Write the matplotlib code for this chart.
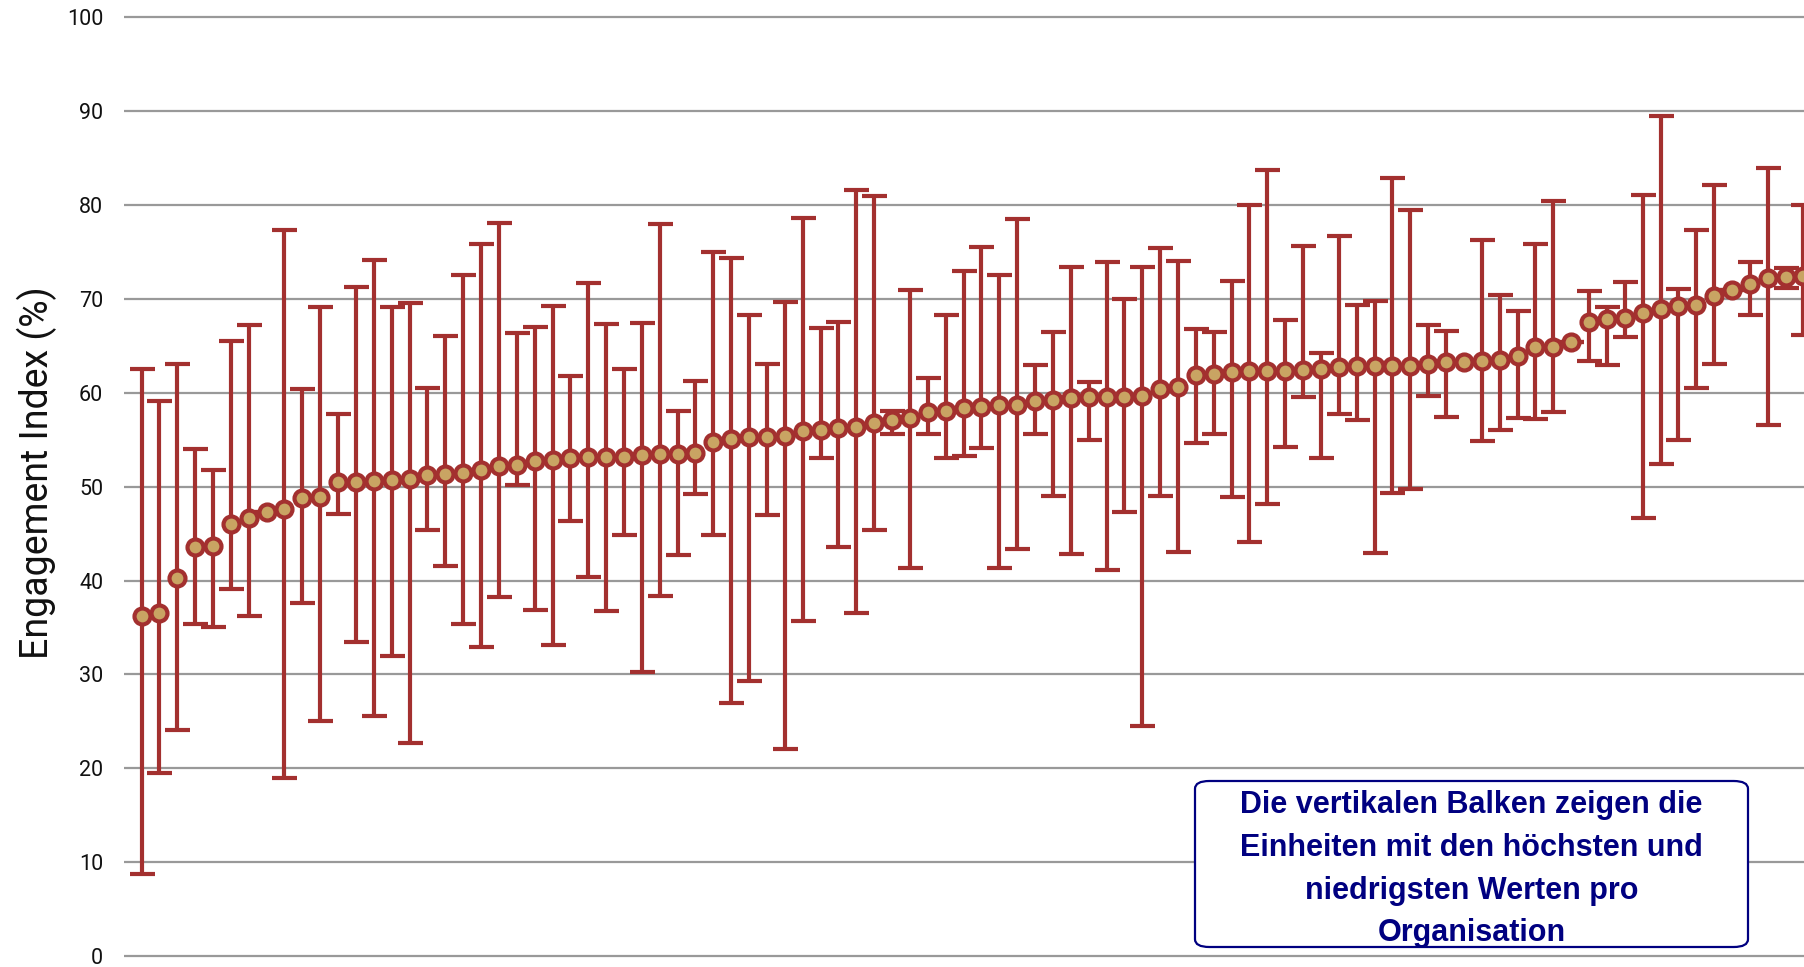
import numpy as np
import matplotlib.pyplot as plt
from matplotlib.patches import FancyBboxPatch

# engagement index per organisation (sorted), with highest / lowest unit
mean = [36.2, 36.5, 40.3, 43.6, 43.7, 46.0, 46.7, 47.3, 47.6, 48.8,
        48.9, 50.5, 50.5, 50.6, 50.7, 50.8, 51.2, 51.3, 51.4, 51.8,
        52.2, 52.3, 52.7, 52.8, 53.0, 53.2, 53.2, 53.2, 53.4, 53.5,
        53.5, 53.6, 54.8, 55.1, 55.3, 55.3, 55.4, 55.9, 56.0, 56.2,
        56.4, 56.8, 57.1, 57.3, 58.0, 58.1, 58.4, 58.5, 58.7, 58.7,
        59.1, 59.2, 59.4, 59.5, 59.6, 59.6, 59.7, 60.4, 60.6, 61.9,
        62.0, 62.2, 62.3, 62.3, 62.3, 62.4, 62.5, 62.7, 62.8, 62.8,
        62.8, 62.9, 63.1, 63.3, 63.3, 63.4, 63.5, 63.9, 64.9, 64.9,
        65.4, 67.5, 67.9, 68.0, 68.5, 68.9, 69.2, 69.3, 70.3, 70.9,
        71.6, 72.2, 72.3, 72.4]
high = [62.5, 59.1, 63.1, 54.0, 51.8, 65.5, 67.2, 47.3, 77.3, 60.4,
        69.1, 57.7, 71.3, 74.1, 69.1, 69.6, 60.5, 66.0, 72.5, 75.9,
        78.1, 66.4, 67.0, 69.2, 61.8, 71.7, 67.3, 62.5, 67.4, 78.0,
        58.1, 61.3, 75.0, 74.4, 68.3, 63.1, 69.7, 78.6, 66.9, 67.5,
        81.6, 81.0, 58.1, 70.9, 61.6, 68.3, 73.0, 75.5, 72.5, 78.5,
        63.0, 66.5, 73.4, 61.1, 73.9, 70.0, 73.4, 75.4, 74.0, 66.8,
        66.5, 71.9, 80.0, 83.7, 67.8, 75.6, 64.2, 76.7, 69.4, 69.8,
        82.9, 79.5, 67.2, 66.6, 63.3, 76.3, 70.4, 68.7, 75.9, 80.4,
        65.4, 70.8, 69.1, 71.8, 81.1, 89.5, 71.1, 77.3, 82.1, 70.9,
        73.9, 83.9, 73.3, 80.0]
low = [8.7, 19.5, 24.1, 35.4, 35.0, 39.1, 36.2, 47.3, 19.0, 37.6,
       25.0, 47.1, 33.4, 25.6, 32.0, 22.7, 45.4, 41.5, 35.4, 32.9,
       38.2, 50.2, 36.9, 33.1, 46.3, 40.4, 36.8, 44.9, 30.3, 38.3,
       42.7, 49.2, 44.9, 27.0, 29.3, 47.0, 22.0, 35.7, 53.0, 43.6,
       36.5, 45.4, 55.6, 41.3, 55.6, 53.0, 53.3, 54.1, 41.3, 43.4,
       55.6, 49.0, 42.8, 55.0, 41.1, 47.3, 24.5, 49.0, 43.0, 54.7,
       55.6, 48.9, 44.1, 48.1, 54.2, 59.6, 53.1, 57.7, 57.1, 42.9,
       49.3, 49.7, 59.7, 57.4, 63.3, 54.9, 56.0, 57.3, 57.2, 57.9,
       65.4, 63.4, 63.0, 65.9, 46.7, 52.4, 55.0, 60.5, 63.1, 70.9,
       68.3, 56.6, 71.2, 66.2]
yticks = [0, 10, 20, 30, 40, 50, 60, 70, 80, 90, 100]

mean = np.array(mean)
x = np.arange(1, len(mean) + 1)
yerr = [mean - np.array(low), np.array(high) - mean]

fig = plt.figure(figsize=(18.04, 9.67), dpi=100)
ax = fig.add_axes([124 / 1804, 8 / 967, 1680 / 1804, 945 / 967])

ax.errorbar(x, mean, yerr=yerr, fmt='o', color='#a3302f', ecolor='#a3302f',
            elinewidth=3.0, capsize=9, capthick=2.6,
            markersize=11.5, markeredgewidth=3.0,
            markerfacecolor='#c9a463', markeredgecolor='#a3302f', zorder=3)

ax.set_xlim(0.02, 94.03)
ax.set_ylim(-0.32, 100.35)
ax.set_yticks(yticks)
ax.yaxis.grid(True, color='#999999', linewidth=1.6)
ax.set_axisbelow(True)
ax.set_xticks([])
for s in ax.spines.values():
    s.set_visible(False)
ax.tick_params(axis='y', length=0, pad=15)
for lab in ax.get_yticklabels():
    lab.set_fontfamily('Roboto')
    lab.set_fontsize(15.5)
    lab.set_color('#111111')
ax.set_ylabel('Engagement Index (%)', fontsize=27, family='Roboto',
              color='#111111')
ax.yaxis.set_label_coords(-0.040, 0.515)

# note box
box = FancyBboxPatch((1195 / 1804, 20 / 967), 553 / 1804, 166 / 967,
                     boxstyle='round,pad=0,rounding_size=0.008',
                     transform=fig.transFigure, facecolor='white',
                     edgecolor='#000080', linewidth=1.6, zorder=5)
fig.patches.append(box)
fig.text(1471.5 / 1804, 0.101,
         'Die vertikalen Balken zeigen die\nEinheiten mit den höchsten und\n'
         'niedrigsten Werten pro\nOrganisation',
         ha='center', va='center', fontsize=22, fontweight='bold',
         color='#000080', linespacing=1.55,
         family=['Liberation Sans', 'DejaVu Sans'], zorder=6)

fig.savefig('out.png', dpi=100)
